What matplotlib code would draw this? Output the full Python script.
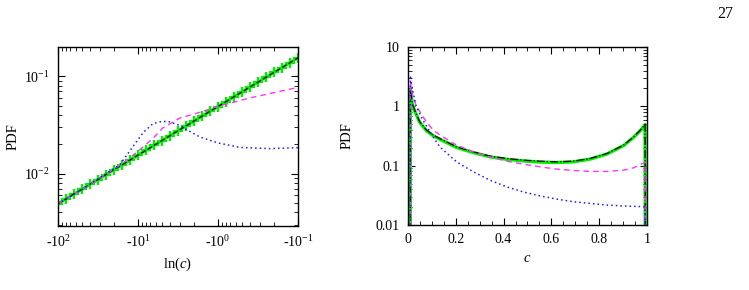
import math
import matplotlib
matplotlib.use("Agg")
import matplotlib.pyplot as plt
from matplotlib.ticker import LogLocator, MultipleLocator, FuncFormatter, NullFormatter

plt.rcParams['font.family'] = ['Liberation Serif', 'DejaVu Serif']
plt.rcParams['mathtext.fontset'] = 'custom'
plt.rcParams['mathtext.rm'] = 'Liberation Serif'
plt.rcParams['mathtext.it'] = 'Liberation Serif:italic'
plt.rcParams['axes.unicode_minus'] = False
plt.rcParams['font.size'] = 10

# left panel: PDF against |ln c| (axis drawn as -10^k)
line_x = [100, 79.4, 63.1, 50.1, 39.8, 31.6, 25.1, 20.0, 15.8, 12.6, 10.0,
          7.94, 6.31, 5.01, 3.98, 3.16, 2.51, 2.00, 1.58, 1.26, 1.00,
          0.794, 0.631, 0.501, 0.398, 0.316, 0.251, 0.200, 0.158, 0.126, 0.100]
line_y = [0.0049, 0.0055, 0.0062, 0.0069, 0.0078, 0.0087, 0.0098, 0.0110, 0.0123,
          0.0138, 0.0155, 0.0174, 0.0195, 0.0219, 0.0246, 0.0276, 0.0309, 0.0347,
          0.0390, 0.0437, 0.0490, 0.0550, 0.0617, 0.0692, 0.0777, 0.0871, 0.0978,
          0.1097, 0.1231, 0.1381, 0.1550]

blue_lx = [100, 50, 29.9, 16.8, 11.5, 8.66, 6.49, 5.2, 4.2, 3.16, 2.45, 1.68,
           1.0, 0.53, 0.224, 0.1]
blue_ly = [0.0049, 0.0069, 0.0091, 0.0124, 0.0191, 0.0263, 0.0327, 0.0342, 0.0345,
           0.0318, 0.0283, 0.0238, 0.0207, 0.0186, 0.0181, 0.0185]

mag_lx = [100, 50, 29.9, 16.8, 12.6, 9.44, 6.5, 4.9, 2.99, 1.68, 1.0, 0.4, 0.1]
mag_ly = [0.0049, 0.0069, 0.0090, 0.0122, 0.0145, 0.0177, 0.0230, 0.0295, 0.0373,
          0.0427, 0.0492, 0.0600, 0.0770]

# right panel: PDF against c
c_black = [0.0098, 0.0100, 0.014, 0.018, 0.028, 0.049, 0.077, 0.105, 0.133, 0.203,
           0.273, 0.343, 0.413, 0.483, 0.552, 0.622, 0.692, 0.762, 0.832, 0.902,
           0.944, 0.972, 0.989, 0.992, 0.993]
pdf_black = [0.001, 2.0, 1.5, 1.11, 0.86, 0.55, 0.40, 0.33, 0.287, 0.208, 0.171,
             0.145, 0.132, 0.124, 0.119, 0.116, 0.119, 0.132, 0.160, 0.222, 0.306,
             0.396, 0.48, 0.50, 0.001]
pdf_green = [0.001, 1.9, 1.45, 1.08, 0.84, 0.54, 0.39, 0.32, 0.280, 0.203, 0.166,
             0.141, 0.128, 0.120, 0.115, 0.113, 0.116, 0.129, 0.157, 0.218, 0.300,
             0.390, 0.47, 0.49, 0.001]

c_blue = [0.0098, 0.0100, 0.014, 0.021, 0.035, 0.063, 0.105, 0.133, 0.203, 0.273,
          0.343, 0.413, 0.483, 0.552, 0.622, 0.692, 0.762, 0.832, 0.902, 0.986,
          0.992, 0.993]
pdf_blue = [0.001, 3.3, 2.5, 1.75, 0.98, 0.58, 0.306, 0.208, 0.116, 0.079, 0.057,
            0.044, 0.036, 0.031, 0.0273, 0.0247, 0.0231, 0.0217, 0.0209, 0.0204,
            0.0204, 0.001]

c_mag = [0.0098, 0.0100, 0.014, 0.020, 0.035, 0.077, 0.105, 0.133, 0.203, 0.273,
         0.343, 0.413, 0.483, 0.552, 0.622, 0.692, 0.762, 0.832, 0.902, 0.944,
         0.989, 0.992, 0.993]
pdf_mag = [0.001, 2.75, 2.0, 1.5, 1.0, 0.55, 0.40, 0.33, 0.222, 0.171, 0.141, 0.119,
           0.106, 0.0957, 0.0875, 0.083, 0.080, 0.080, 0.084, 0.092, 0.113, 0.115,
           0.001]

fig = plt.figure(figsize=(7.49, 2.90), dpi=100)
ax1 = fig.add_axes([0.0774, 0.2207, 0.3204, 0.617])
ax2 = fig.add_axes([0.5447, 0.2241, 0.3191, 0.6138])

blue = '#1a1aff'
mag = '#ff33ff'
green = '#00ee00'

# left
ax1.plot(line_x, line_y, color=green, lw=2.2, marker='+', ms=7, mew=1.6)
ax1.plot(line_x, line_y, color='black', lw=0.9, ls=(0, (4, 2)))
ax1.plot(mag_lx, mag_ly, color=mag, lw=1.0, ls=(0, (4, 3)))
ax1.plot(blue_lx, blue_ly, color=blue, lw=1.1, ls=(0, (1, 2)))
ax1.set_xscale('log')
ax1.set_yscale('log')
ax1.set_xlim(100, 0.1)
ax1.set_ylim(0.0029, 0.2)
ax1.xaxis.set_major_locator(LogLocator(base=10, numticks=10))
ax1.xaxis.set_major_formatter(FuncFormatter(
    lambda v, p: '-' + r'$10^{%d}$' % round(math.log10(v))))
ax1.set_xlabel(r'ln($\mathit{c}$)', labelpad=4, fontsize=10.5)
ax1.set_ylabel('PDF', labelpad=3, fontsize=10.5)

# right
ax2.plot(c_black, pdf_green, color=green, lw=2.4)
ax2.plot(c_black, pdf_black, color='black', lw=0.9, ls='-.')
ax2.plot(c_mag, pdf_mag, color=mag, lw=1.0, ls=(0, (4, 3)))
ax2.plot(c_blue, pdf_blue, color=blue, lw=1.1, ls=(0, (1, 2)))
ax2.set_yscale('log')
ax2.set_xlim(0, 1)
ax2.set_ylim(0.01, 10)
ax2.set_xticks([0, 0.2, 0.4, 0.6, 0.8, 1.0])
ax2.set_xticklabels(['0', '0.2', '0.4', '0.6', '0.8', '1'])
ax2.xaxis.set_minor_locator(MultipleLocator(0.05))
ax2.set_yticks([0.01, 0.1, 1, 10])
ax2.set_yticklabels(['0.01', '0.1', '1', '10'])
ax2.set_xlabel(r'$\mathit{c}$', labelpad=4, fontsize=10.5)
ax2.set_ylabel('PDF', labelpad=16, fontsize=10.5)

for ax in (ax1, ax2):
    ax.tick_params(which='both', direction='in', top=True, right=True, pad=6)
    ax.tick_params(which='major', length=5, width=0.8)
    ax.tick_params(which='minor', length=3, width=0.6)
    ax.yaxis.set_minor_locator(LogLocator(base=10, subs=range(2, 10), numticks=10))
    ax.yaxis.set_minor_formatter(NullFormatter())
    for s in ax.spines.values():
        s.set_linewidth(1.0)
ax1.xaxis.set_minor_locator(LogLocator(base=10, subs=range(2, 10), numticks=10))
ax1.xaxis.set_minor_formatter(NullFormatter())

fig.text(0.979, 0.952, '27', ha='right', va='center', fontsize=11.5)

fig.savefig('out.png', dpi=100)
